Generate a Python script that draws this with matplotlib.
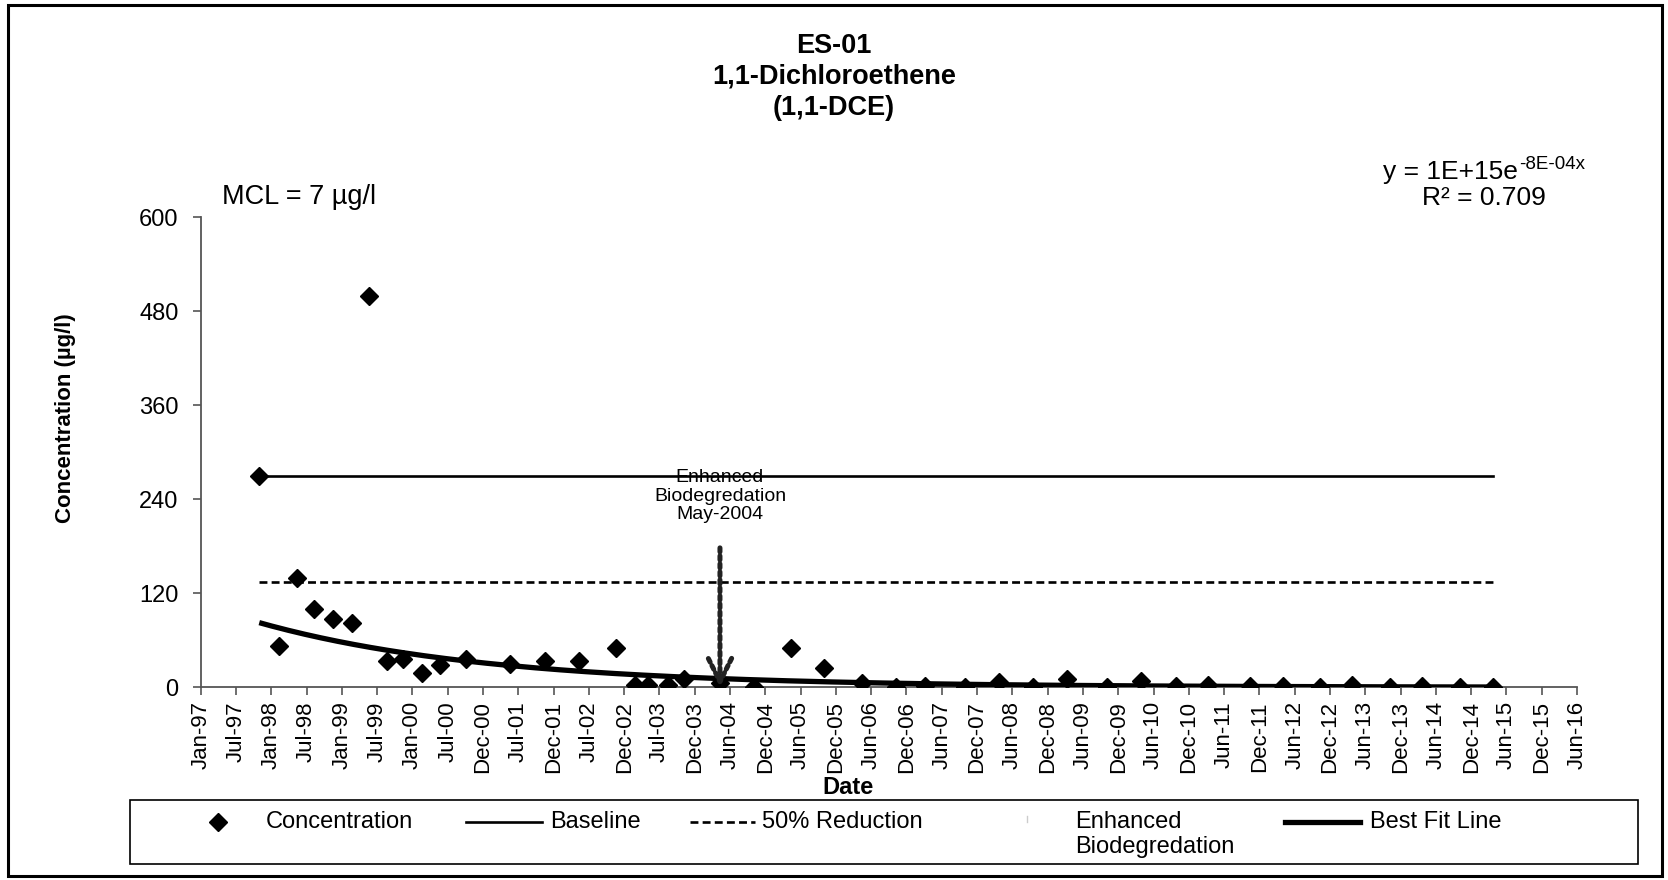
import datetime as dt
import numpy as np
import matplotlib
matplotlib.use("Agg")
import matplotlib.pyplot as plt
import matplotlib.dates as mdates
from matplotlib.patches import Rectangle
from matplotlib.lines import Line2D

plt.rcParams['font.family'] = ['Liberation Sans', 'DejaVu Sans']

# ---------------- data ----------------
sample_dates = [
    "1997-11-02", "1998-02-10", "1998-05-17", "1998-08-11", "1998-11-16",
    "1999-02-22", "1999-05-23", "1999-08-23", "1999-11-13", "2000-02-21",
    "2000-05-20", "2000-10-03", "2001-05-18", "2001-11-16", "2002-05-11",
    "2002-11-14", "2003-02-20", "2003-04-30", "2003-08-09", "2003-10-31",
    "2004-05-05", "2004-10-27", "2005-05-05", "2005-10-22", "2006-05-09",
    "2006-10-28", "2007-03-30", "2007-10-19", "2008-04-15", "2008-10-04",
    "2009-03-28", "2009-10-20", "2010-04-14", "2010-10-15", "2011-03-27",
    "2011-10-28", "2012-04-17", "2012-10-26", "2013-04-09", "2013-10-19",
    "2014-04-03", "2014-10-16", "2015-04-07",
]
concentration = [
    270, 53, 140, 100, 87,
    82, 500, 34, 36, 18,
    28, 36, 30, 34, 34,
    50, 3, 3, 2.5, 11,
    5, 0.4, 50, 25, 6,
    0.5, 1.7, 0.8, 6.8, 0.8,
    11, 0.8, 7.7, 1.3, 3.4,
    1.3, 1.7, 0.8, 3.4, 0.8,
    1.7, 0.8, 0.8,
]
baseline_value = 270
reduction_value = 135
enhanced_date = "2004-05-05"
enhanced_top = 178
# exponential trendline y = A * exp(-B * x), x = Excel date serial
fit_A = 1e15
fit_B = 8.43e-4

x_tick_start = "1997-01-04"
x_tick_step_days = 182
x_tick_labels = [
    "Jan-97", "Jul-97", "Jan-98", "Jul-98", "Jan-99", "Jul-99", "Jan-00", "Jul-00",
    "Dec-00", "Jul-01", "Dec-01", "Jul-02", "Dec-02", "Jul-03", "Dec-03", "Jun-04",
    "Dec-04", "Jun-05", "Dec-05", "Jun-06", "Dec-06", "Jun-07", "Dec-07", "Jun-08",
    "Dec-08", "Jun-09", "Dec-09", "Jun-10", "Dec-10", "Jun-11", "Dec-11", "Jun-12",
    "Dec-12", "Jun-13", "Dec-13", "Jun-14", "Dec-14", "Jun-15", "Dec-15", "Jun-16",
]
y_ticks = [0, 120, 240, 360, 480, 600]

# ---------------- figure ----------------
W, H = 1668, 880
fig = plt.figure(figsize=(W / 100, H / 100), dpi=100)


def fx(p):
    return p / W


def fy(p):
    return 1 - p / H


ax_l, ax_r, ax_t, ax_b = 200.7, 1577.0, 217.3, 687.3
ax = fig.add_axes([fx(ax_l), fy(ax_b), (ax_r - ax_l) / W, (ax_b - ax_t) / H])

dates = [dt.datetime.strptime(d, "%Y-%m-%d") for d in sample_dates]
dnum = mdates.date2num(dates)

# lines
ax.plot([dnum[0], dnum[-1]], [baseline_value] * 2, color="black", lw=1.9, zorder=2)
ax.plot([dnum[0], dnum[-1]], [reduction_value] * 2, color="black", lw=1.9,
        dashes=(3, 1.6), zorder=2)

# trendline
excel_epoch = dt.datetime(1899, 12, 30)
t_fit = np.linspace(dnum[0], dnum[-1], 300)
serial = t_fit - mdates.date2num(excel_epoch)
ax.plot(t_fit, fit_A * np.exp(-fit_B * serial), color="black", lw=3.8,
        solid_capstyle="butt", zorder=3)

# markers
ax.plot(dnum, concentration, linestyle="none", marker="D", markersize=9,
        color="black", zorder=4)

# enhanced biodegradation arrow
ed = mdates.date2num(dt.datetime.strptime(enhanced_date, "%Y-%m-%d"))
ax.annotate("", xy=(ed, 0), xytext=(ed, enhanced_top),
            arrowprops=dict(arrowstyle="->", linestyle=(0, (0.8, 0.8)), lw=3.6,
                            color="#222222", mutation_scale=42,
                            shrinkA=0, shrinkB=0),
            zorder=5)
ax.text(ed, 244, "Enhanced\nBiodegredation\nMay-2004", ha="center", va="center",
        fontsize=14, linespacing=1.13, zorder=1)

# axes styling
x0 = mdates.date2num(dt.datetime.strptime(x_tick_start, "%Y-%m-%d"))
xticks = [x0 + i * x_tick_step_days for i in range(len(x_tick_labels))]
ax.set_xlim(xticks[0], xticks[-1])
ax.set_ylim(0, 600)
ax.set_xticks(xticks)
ax.set_xticklabels(x_tick_labels, rotation=90, fontsize=16)
ax.set_yticks(y_ticks)
ax.set_yticklabels([str(v) for v in y_ticks], fontsize=17)
for s in ["top", "right"]:
    ax.spines[s].set_visible(False)
for s in ["left", "bottom"]:
    ax.spines[s].set_color("#555555")
    ax.spines[s].set_linewidth(1.3)
ax.tick_params(axis="x", direction="out", length=6, width=1.2, color="#555555", pad=4)
ax.tick_params(axis="y", direction="out", length=6, width=1.2, color="#555555", pad=10)
ax.patch.set_visible(False)

# texts
fig.text(fx(834), fy(46), "ES-01", ha="center", va="center", fontsize=19.5, fontweight="bold")
fig.text(fx(834), fy(77), "1,1-Dichloroethene", ha="center", va="center", fontsize=19.5,
         fontweight="bold")
fig.text(fx(834), fy(108), "(1,1-DCE)", ha="center", va="center", fontsize=19.5,
         fontweight="bold")
fig.text(fx(222), fy(204), "MCL = 7 µg/l", ha="left", va="baseline", fontsize=19.5)
fig.text(fx(1518), fy(179), "y = 1E+15e", ha="right", va="baseline", fontsize=19)
fig.text(fx(1519), fy(169), "-8E-04x", ha="left", va="baseline", fontsize=13.5)
fig.text(fx(1484), fy(205), "R² = 0.709", ha="center", va="baseline", fontsize=19)
fig.text(fx(66), fy(418), "Concentration (µg/l)", rotation=90, ha="center", va="center",
         fontsize=16, fontweight="bold")
fig.text(fx(848), fy(787), "Date", ha="center", va="center", fontsize=17, fontweight="bold")

# legend (manual, in pixel coordinates of its own box)
lx0, lx1, ly0, ly1 = 130, 1638, 800, 864
lax = fig.add_axes([fx(lx0), fy(ly1), (lx1 - lx0) / W, (ly1 - ly0) / H])
lax.set_xlim(lx0, lx1)
lax.set_ylim(ly1, ly0)
lax.axis("off")
lax.add_patch(Rectangle((0, 0), 1, 1, transform=lax.transAxes, fill=False,
                        edgecolor="black", lw=1.2, clip_on=False))
ry, ry2, lfs = 822, 847, 17
lax.add_line(Line2D([218], [ry], marker="D", markersize=9, color="black", linestyle="none"))
lax.text(266, ry, "Concentration", va="center", ha="left", fontsize=lfs)
lax.add_line(Line2D([466, 542], [ry, ry], color="black", lw=1.9))
lax.text(550, ry, "Baseline", va="center", ha="left", fontsize=lfs)
lax.add_line(Line2D([690, 755], [ry, ry], color="black", lw=1.9, dashes=(3, 1.6)))
lax.text(762, ry, "50% Reduction", va="center", ha="left", fontsize=lfs)
lax.add_line(Line2D([1027, 1027], [816, 822], color="#cccccc", lw=1.0))
lax.text(1075, ry, "Enhanced", va="center", ha="left", fontsize=lfs)
lax.text(1075, ry2, "Biodegredation", va="center", ha="left", fontsize=lfs)
lax.add_line(Line2D([1285, 1360], [ry, ry], color="black", lw=3.8))
lax.text(1370, ry, "Best Fit Line", va="center", ha="left", fontsize=lfs)

# outer frame
fig.add_artist(Rectangle((fx(8), fy(876)), (1662 - 8) / W, (876 - 5) / H,
                         transform=fig.transFigure, fill=False, edgecolor="black", lw=2.2))

fig.savefig("out.png", dpi=100)
